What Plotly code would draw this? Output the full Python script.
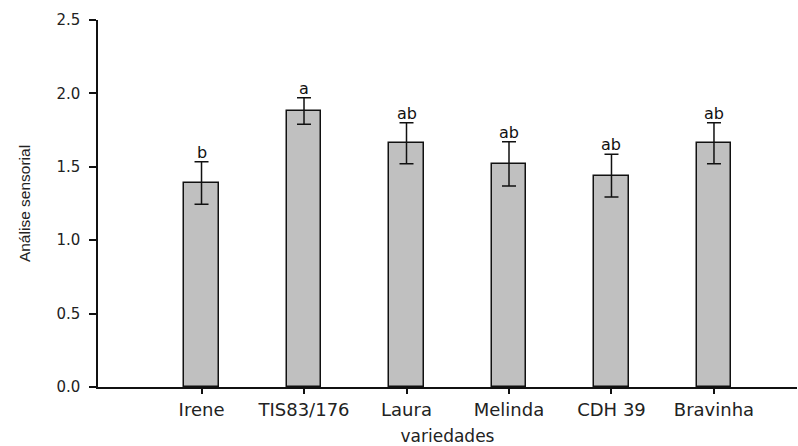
import plotly.graph_objects as go

variedades = ["Irene", "TIS83/176", "Laura", "Melinda", "CDH 39", "Bravinha"]
medias = [1.39, 1.88, 1.66, 1.52, 1.44, 1.66]
erros = [0.145, 0.09, 0.14, 0.15, 0.145, 0.14]
letras = ["b", "a", "ab", "ab", "ab", "ab"]
y_ticks = [0.0, 0.5, 1.0, 1.5, 2.0, 2.5]

WIDE = "DejaVu Sans, Verdana, sans-serif"
ARIAL = "Liberation Sans, Arial, sans-serif"

fig = go.Figure()
fig.add_trace(go.Bar(
    x=variedades, y=medias, width=0.34,
    marker=dict(color="#c0c0c0", line=dict(color="#111111", width=1.5)),
    error_y=dict(type="data", array=erros, visible=True, color="#111111",
                 thickness=1.5, width=7),
    showlegend=False,
))

for v, m, e, l in zip(variedades, medias, erros, letras):
    fig.add_annotation(x=v, y=m + e, text=l, showarrow=False,
                       yanchor="bottom", yshift=-2,
                       font=dict(family=WIDE, size=16, color="#111111"))

fig.update_layout(
    width=798, height=446,
    margin=dict(l=98, r=1, t=20, b=59),
    plot_bgcolor="white", paper_bgcolor="white",
    font=dict(family=WIDE, size=14, color="#222222"),
    bargap=0,
)
fig.update_xaxes(
    range=[-1.01, 5.81], showgrid=False, zeroline=False,
    showline=True, linecolor="#111111", linewidth=1.5,
    ticks="outside", ticklen=5, tickwidth=1.5, tickcolor="#111111",
    tickfont=dict(family=WIDE, size=18, color="#222222"),
    ticklabelstandoff=1,
    title=dict(text="variedades", font=dict(family=WIDE, size=17, color="#222222"), standoff=12),
)
fig.update_yaxes(
    range=[0, 2.5], tickvals=y_ticks, ticktext=[f"{t:.1f}" for t in y_ticks],
    showgrid=False, zeroline=False,
    showline=True, linecolor="#111111", linewidth=1.5,
    ticks="outside", ticklen=7, tickwidth=1.5, tickcolor="#111111",
    tickfont=dict(family=WIDE, size=15, color="#222222"),
    ticklabelstandoff=6,
    title=dict(text="Análise sensorial", font=dict(family=ARIAL, size=15.5, color="#222222"), standoff=22),
)

fig.write_html("out.html")
